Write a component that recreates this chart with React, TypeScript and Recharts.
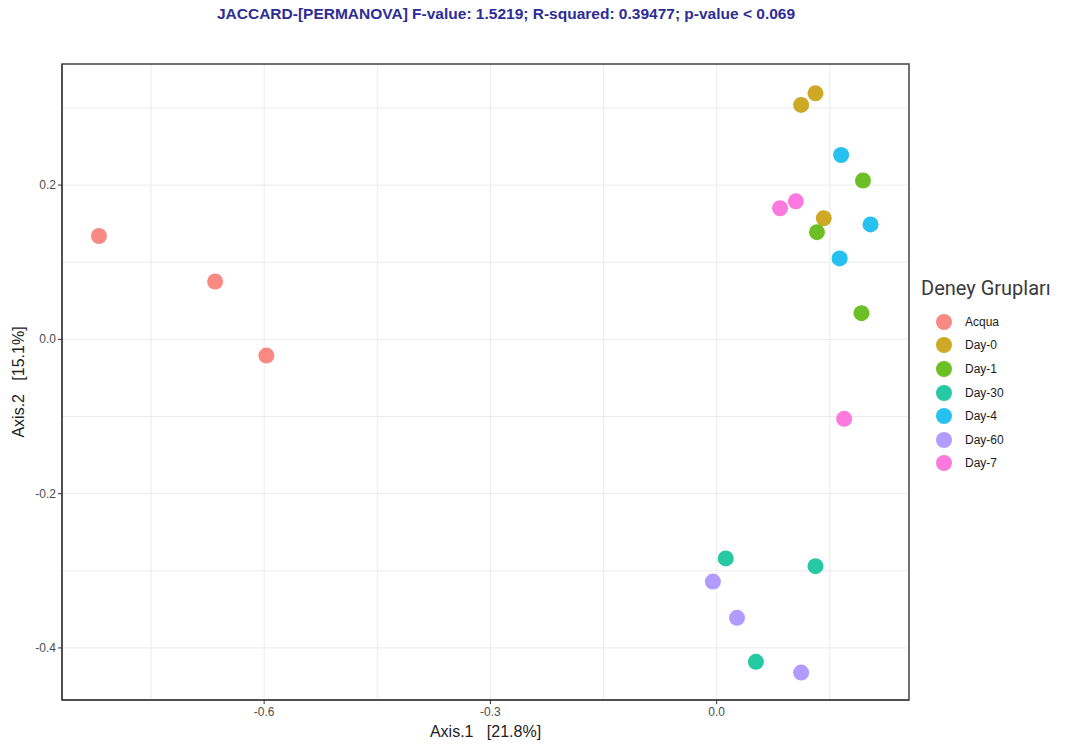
import { ScatterChart, Scatter, XAxis, YAxis, CartesianGrid, Legend, ReferenceArea } from 'recharts'

const acqua = [
  { x: -0.819, y: 0.134 },
  { x: -0.665, y: 0.075 },
  { x: -0.597, y: -0.021 },
]
const day0 = [
  { x: 0.112, y: 0.304 },
  { x: 0.131, y: 0.319 },
  { x: 0.142, y: 0.157 },
]
const day1 = [
  { x: 0.194, y: 0.206 },
  { x: 0.133, y: 0.139 },
  { x: 0.192, y: 0.034 },
]
const day30 = [
  { x: 0.012, y: -0.284 },
  { x: 0.131, y: -0.294 },
  { x: 0.052, y: -0.418 },
]
const day4 = [
  { x: 0.165, y: 0.239 },
  { x: 0.204, y: 0.149 },
  { x: 0.163, y: 0.105 },
]
const day60 = [
  { x: -0.005, y: -0.314 },
  { x: 0.027, y: -0.361 },
  { x: 0.112, y: -0.432 },
]
const day7 = [
  { x: 0.084, y: 0.17 },
  { x: 0.105, y: 0.179 },
  { x: 0.169, y: -0.103 },
]

const groups = [
  { name: 'Acqua', data: acqua, color: '#F8766D' },
  { name: 'Day-0', data: day0, color: '#C49A00' },
  { name: 'Day-1', data: day1, color: '#53B400' },
  { name: 'Day-30', data: day30, color: '#00C094' },
  { name: 'Day-4', data: day4, color: '#00B6EB' },
  { name: 'Day-60', data: day60, color: '#A58AFF' },
  { name: 'Day-7', data: day7, color: '#FB61D7' },
]

// major ticks get a label, the rest are minor grid lines only
const xMajor = [-0.6, -0.3, 0]
const yMajor = [-0.4, -0.2, 0, 0.2]
const xGridTicks = [-0.75, -0.6, -0.45, -0.3, -0.15, 0, 0.15]
const yGridTicks = [-0.4, -0.3, -0.2, -0.1, 0, 0.1, 0.2, 0.3]
const xDomain = [-0.868, 0.255]
const yDomain = [-0.4675, 0.357]

const title = 'JACCARD-[PERMANOVA] F-value: 1.5219; R-squared: 0.39477; p-value < 0.069'
const xTitle = 'Axis.1   [21.8%]'
const yTitle = 'Axis.2   [15.1%]'

const font = 'Liberation Sans, Arial, sans-serif'
const isMajor = (list: number[], v: number) => list.some((m) => Math.abs(m - v) < 1e-9)

function XTick({ x, y, payload }: any) {
  if (!isMajor(xMajor, payload.value)) return null
  return (
    <g>
      <line x1={x} x2={x} y1={y - 6} y2={y - 2} stroke="#333" />
      <text x={x} y={y + 10} textAnchor="middle" fontSize={12} fill="#4d4d4d" fontFamily={font}>
        {payload.value.toFixed(1)}
      </text>
    </g>
  )
}

function YTick({ x, y, payload }: any) {
  if (!isMajor(yMajor, payload.value)) return null
  return (
    <g>
      <line x1={x + 2} x2={x + 6} y1={y} y2={y} stroke="#333" />
      <text x={x} y={y + 4} textAnchor="end" fontSize={12} fill="#4d4d4d" fontFamily={font}>
        {payload.value.toFixed(1)}
      </text>
    </g>
  )
}

function LegendBox({ payload }: any) {
  return (
    <div style={{ fontFamily: font }}>
      <div style={{ fontFamily: 'Roboto, sans-serif', fontSize: 20, color: '#3a3a3a', lineHeight: '24px', marginBottom: 10 }}>
        Deney Grupları
      </div>
      {(payload || []).map((p: any) => (
        <div key={p.value} style={{ display: 'flex', alignItems: 'center', height: 23.6 }}>
          <svg width={44} height={18}>
            <circle cx={23} cy={9} r={8} fill={p.color} fillOpacity={0.85} />
          </svg>
          <span style={{ fontSize: 12, color: '#1a1a1a' }}>{p.value}</span>
        </div>
      ))}
    </div>
  )
}

export default function App() {
  return (
    <div style={{ position: 'absolute', left: 0, top: 0, width: 1082, height: 745, background: '#fff' }}>
      <div
        style={{
          position: 'absolute',
          top: 5,
          left: 506,
          transform: 'translateX(-50%)',
          whiteSpace: 'nowrap',
          fontFamily: font,
          fontWeight: 'bold',
          fontSize: 15.5,
          color: '#2d2d96',
        }}
      >
        {title}
      </div>
      <ScatterChart width={1082} height={745} margin={{ top: 64, right: 173, bottom: 0, left: 0 }}>
        <CartesianGrid stroke="#ebebeb" strokeWidth={1} />
        <XAxis
          type="number"
          dataKey="x"
          height={45}
          domain={xDomain}
          ticks={xGridTicks}
          tick={<XTick />}
          tickSize={4}
          tickLine={false}
          axisLine={{ stroke: '#444', strokeWidth: 1.5 }}
          allowDataOverflow
          label={{
            content: (props: any) => {
              const vb = props.viewBox || { x: 62, y: 700, width: 847, height: 45 }
              return (
                <text
                  x={vb.x + vb.width / 2}
                  y={737}
                  textAnchor="middle"
                  xmlSpace="preserve"
                  style={{ fontSize: 16, fill: '#222', fontFamily: font, whiteSpace: 'pre' }}
                >
                  {xTitle}
                </text>
              )
            },
          }}
        />
        <YAxis
          type="number"
          dataKey="y"
          width={62}
          domain={yDomain}
          ticks={yGridTicks}
          tick={<YTick />}
          tickSize={4}
          tickLine={false}
          axisLine={{ stroke: '#444', strokeWidth: 1.5 }}
          allowDataOverflow
          label={{
            content: (props: any) => {
              const vb = props.viewBox || { x: 0, y: 64, width: 62, height: 636 }
              const cx = 18
              const cy = vb.y + vb.height / 2
              return (
                <text
                  x={cx}
                  y={cy}
                  transform={`rotate(-90, ${cx}, ${cy})`}
                  textAnchor="middle"
                  dominantBaseline="central"
                  xmlSpace="preserve"
                  style={{ fontSize: 16, fill: '#222', fontFamily: font, whiteSpace: 'pre' }}
                >
                  {yTitle}
                </text>
              )
            },
          }}
        />
        <ReferenceArea
          x1={xDomain[0]}
          x2={xDomain[1]}
          y1={yDomain[0]}
          y2={yDomain[1]}
          fill="none"
          stroke="#444"
          strokeWidth={1.5}
          ifOverflow="extendDomain"
        />
        <Legend
          layout="vertical"
          align="center"
          verticalAlign="middle"
          wrapperStyle={{ position: 'absolute', left: 921, top: 276, width: 160 }}
          content={<LegendBox />}
        />
        {groups.map((g) => (
          <Scatter
            key={g.name}
            name={g.name}
            data={g.data}
            fill={g.color}
            isAnimationActive={false}
            shape={(p: any) => <circle cx={p.cx} cy={p.cy} r={8} fill={g.color} fillOpacity={0.85} />}
          />
        ))}
      </ScatterChart>
    </div>
  )
}
